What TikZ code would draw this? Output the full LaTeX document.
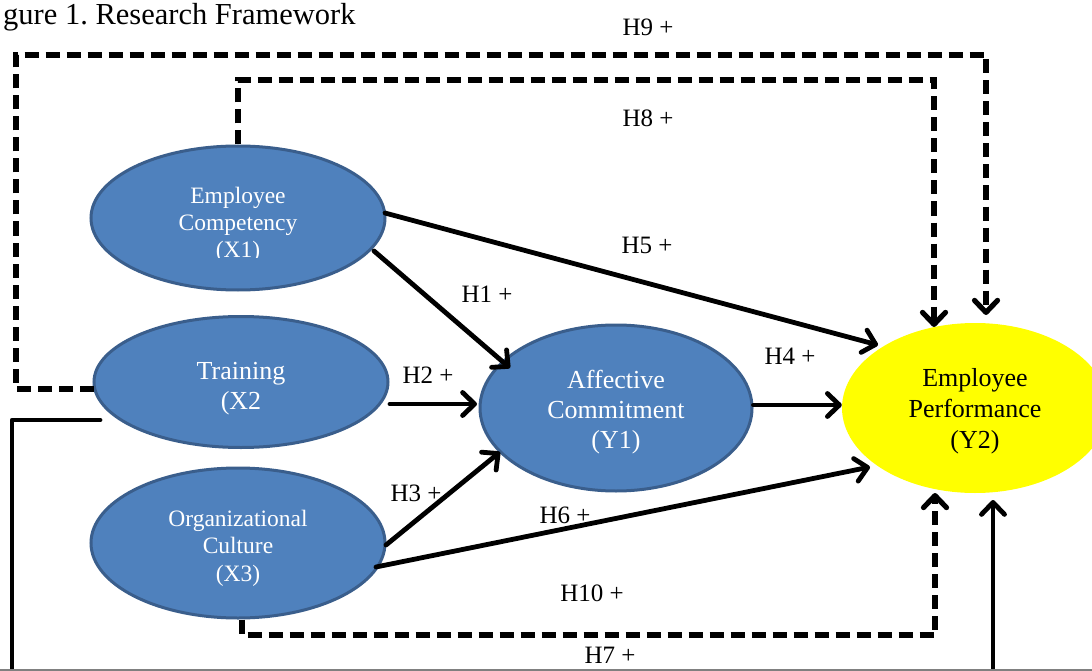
\documentclass[tikz,border=0pt]{standalone}
\usepackage{fontspec}
\setmainfont{Liberation Serif}
\usetikzlibrary{arrows.meta,calc,shapes.geometric}
\definecolor{bluefill}{HTML}{4F81BD}
\definecolor{blueline}{HTML}{3A5E8C}
\definecolor{yellowfill}{HTML}{FFFF00}
\frenchspacing
\begin{document}
\begin{tikzpicture}[x=1pt,y=-1pt,
  latent/.style={ellipse, fill=bluefill, draw=blueline, line width=3pt, inner sep=0pt},
  target/.style={ellipse, fill=yellowfill, draw=none, inner sep=0pt},
  intext/.style={text=white, align=center, inner sep=0pt},
  lbl/.style={font=\fontsize{25}{30}\selectfont, inner sep=0pt},
  tipx/.style={-{Straight Barb[length=12pt,width=23pt,round]}},
  sol/.style={tipx, line width=4.8pt, line cap=round, line join=round},
  dsh/.style={tipx, line width=5.2pt, dash pattern=on 14pt off 7pt, line join=miter}
]
\clip (0,0) rectangle (1092,671);
\fill[white] (0,0) rectangle (1092,671);

% title
\node[anchor=base west, inner sep=0pt, font=\fontsize{30.5}{36}\selectfont] (title) at (3,25) {gure 1. Research Framework};

% nodes
\node[latent, minimum width=294pt, minimum height=144pt] (X1) at (238,218) {};
\begin{scope}
  \clip (80,140) rectangle (400,257);
  \node[intext, font=\fontsize{23.5}{27}\selectfont] (X1t) at (238,225) {Employee\\Competency\\(X1)};
\end{scope}
\node[latent, minimum width=294pt, minimum height=131pt] (X2) at (241,382) {};
\node[intext, font=\fontsize{26}{30}\selectfont] (X2t) at (241,389) {Training\\(X2};
\node[latent, minimum width=294pt, minimum height=150pt] (X3) at (238,543) {};
\node[intext, font=\fontsize{23.5}{27.5}\selectfont] (X3t) at (238,548) {Organizational\\Culture\\(X3)};
\node[latent, minimum width=272pt, minimum height=166pt] (Y1) at (616,408) {};
\node[intext, font=\fontsize{26}{30}\selectfont] (Y1t) at (616,412) {Affective\\Commitment\\(Y1)};
\node[target, minimum width=266pt, minimum height=170pt] (Y2) at (975,408) {};
\node[intext, text=black, font=\fontsize{26}{31}\selectfont] (Y2t) at (975,411) {Employee\\Performance\\(Y2)};

% labels
\node[lbl] (l9) at (648,27) {H9 +};
\node[lbl] (l8) at (648,118) {H8 +};
\node[lbl] (l5) at (647,245) {H5 +};
\node[lbl] (l1) at (487,294) {H1 +};
\node[lbl] (l2) at (428,375) {H2 +};
\node[lbl] (l4) at (790,356) {H4 +};
\node[lbl] (l3) at (416,493) {H3 +};
\node[lbl] (l6) at (565,515) {H6 +};
\node[lbl] (l10) at (592,593) {H10 +};
\node[lbl] (l7) at (610,655) {H7 +};

% dashed connectors
\draw[dsh] ($(X2.west)+(1,7)$) -| (16,55) -| ($(Y2.center)+(11,-93)$);
\draw[dsh] (X1.north) |- (934,80) -- ($(Y2.center)+(-41,-81)$);
\draw[dsh] ($(X3.south)+(4,0)$) |- (935,635) -- ($(Y2.center)+(-40,85)$);

% solid connectors
\draw[sol] ($(X2.center)+(-141,38)$) -| (12,680) -| ($(Y2.center)+(18,92)$);
\draw[sol] ($(X1.center)+(147,-5)$) -- ($(Y2.center)+(-97,-63)$);
\draw[sol] ($(X1.center)+(136,33)$) -- ($(Y1.center)+(-106,-40)$);
\draw[sol] ($(X2.center)+(149,22)$) -- ($(Y1.center)+(-139,-4)$);
\draw[sol] ($(X3.center)+(148,2)$) -- ($(Y1.center)+(-116,44)$);
\draw[sol] ($(X3.center)+(138,24)$) -- ($(Y2.center)+(-105,59)$);
\draw[sol] ($(Y1.east)+(0,-3)$) -- ($(Y2.west)+(0,-3)$);

% frame edge
\draw[gray, line width=1.5pt] (0,670) -- (1092,670);
\end{tikzpicture}
\end{document}
